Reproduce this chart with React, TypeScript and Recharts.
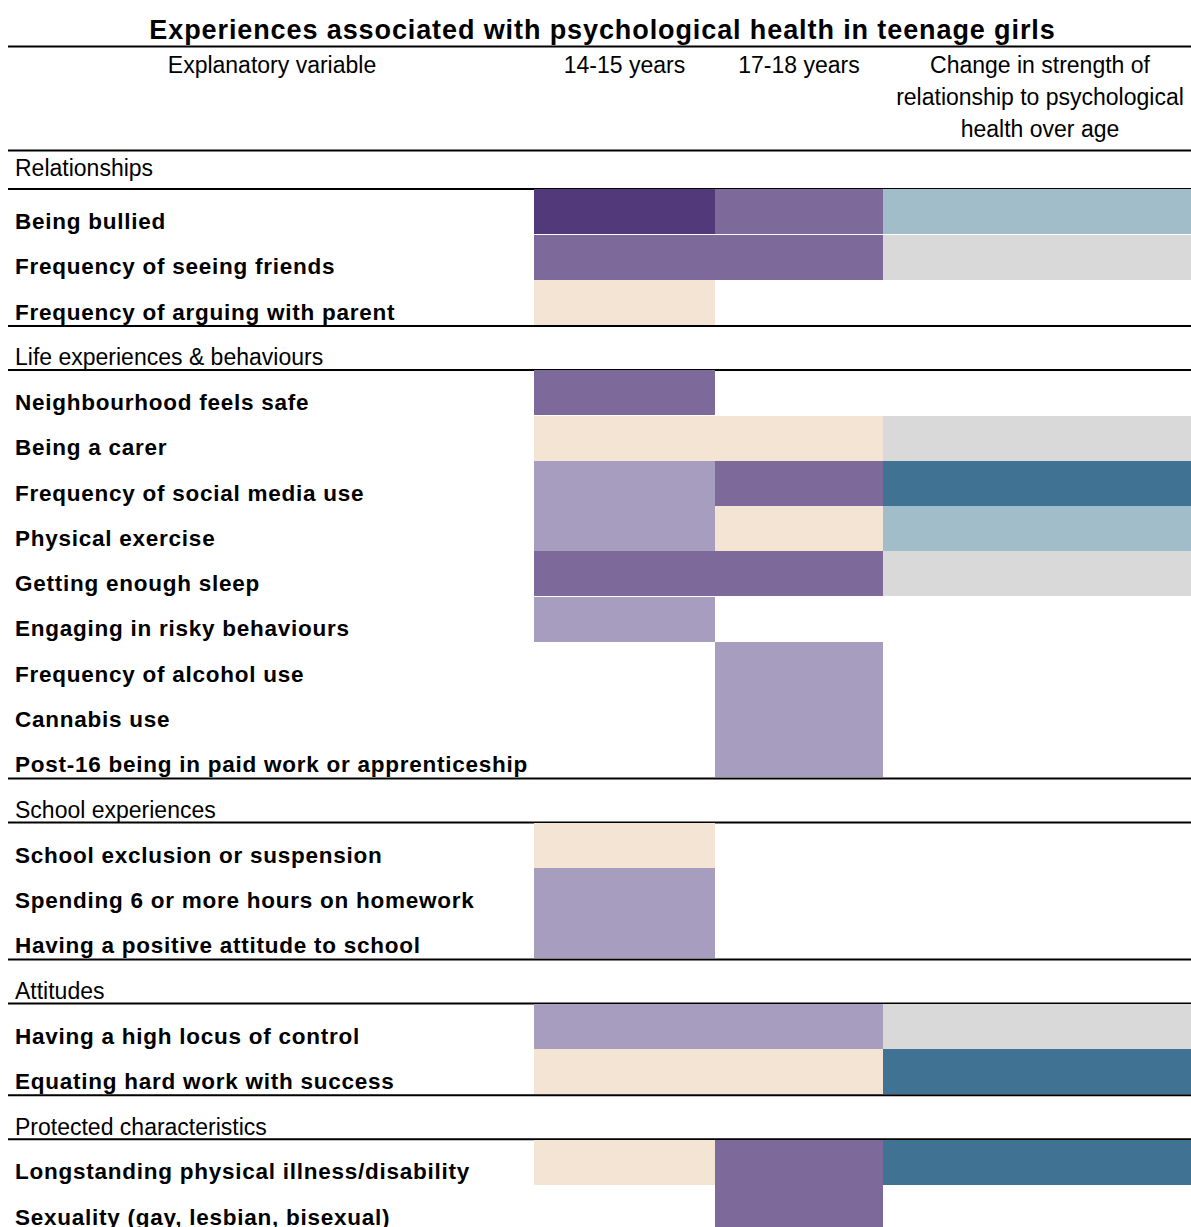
import { Bar, BarChart, XAxis, YAxis } from "recharts";

const FONT = '"Liberation Sans", Arial, sans-serif';

const title = "Experiences associated with psychological health in teenage girls";
const headerLines = [
  ["Explanatory variable"],
  ["14-15 years"],
  ["17-18 years"],
  ["Change in strength of", "relationship to psychological", "health over age"],
];

const sectionRows = [
  "Relationships",
  "Life experiences & behaviours",
  "School experiences",
  "Attitudes",
  "Protected characteristics",
];

const rowLabels = [
  "Relationships",
  "Being bullied",
  "Frequency of seeing friends",
  "Frequency of arguing with parent",
  "Life experiences & behaviours",
  "Neighbourhood feels safe",
  "Being a carer",
  "Frequency of social media use",
  "Physical exercise",
  "Getting enough sleep",
  "Engaging in risky behaviours",
  "Frequency of alcohol use",
  "Cannabis use",
  "Post-16 being in paid work or apprenticeship",
  "School experiences",
  "School exclusion or suspension",
  "Spending 6 or more hours on homework",
  "Having a positive attitude to school",
  "Attitudes",
  "Having a high locus of control",
  "Equating hard work with success",
  "Protected characteristics",
  "Longstanding physical illness/disability",
  "Sexuality (gay, lesbian, bisexual)",
];

const age1415 = ["", "darkPurple", "purple", "peach", "", "purple", "peach", "lightPurple", "lightPurple", "purple", "lightPurple", "", "", "", "", "peach", "lightPurple", "lightPurple", "", "lightPurple", "peach", "", "peach", ""];
const age1718 = ["", "purple", "purple", "", "", "", "peach", "purple", "peach", "purple", "", "lightPurple", "lightPurple", "lightPurple", "", "", "", "", "", "lightPurple", "peach", "", "purple", "purple"];
const changeOverAge = ["", "lightBlue", "grey", "", "", "", "grey", "blue", "lightBlue", "grey", "", "", "", "", "", "", "", "", "", "grey", "blue", "", "blue", ""];

// relative widths of the three result columns
const columnSpans = [181, 168, 308];

const palette: Record<string, string> = {
  darkPurple: "#52397a",
  purple: "#7e6a9a",
  lightPurple: "#a79dbe",
  peach: "#f3e4d3",
  lightBlue: "#a0bdc9",
  grey: "#d9d9d9",
  blue: "#407393",
};

const W = 1191;
const H = 1230;
const TOP = 144;
const LABEL_W = 534;
const BAND = (H - TOP) / rowLabels.length;

const rows = rowLabels.map((label, i) => ({
  label,
  section: sectionRows.includes(label),
  c0: age1415[i],
  c1: age1718[i],
  c2: changeOverAge[i],
  w0: columnSpans[0],
  w1: columnSpans[1],
  w2: columnSpans[2],
}));

function cellShape(col: number) {
  return (props: any) => {
    const { x, y, width, height, payload, index } = props;
    const fill = palette[payload[`c${col}`]];
    const parts: any[] = [];
    if (col === 0 && payload.section) {
      if (index > 0) {
        parts.push(<line key="t" x1={8} x2={W} y1={y + 1} y2={y + 1} stroke="#000" strokeWidth={2} />);
      }
      parts.push(<line key="b" x1={8} x2={W} y1={y + height} y2={y + height} stroke="#000" strokeWidth={2} />);
    }
    if (fill) {
      parts.push(<rect key="r" x={x} y={y} width={width} height={height} fill={fill} shapeRendering="crispEdges" />);
    }
    return <g>{parts}</g>;
  };
}

function RowLabel(props: any) {
  const { y, payload, index } = props;
  const isSection = sectionRows.includes(payload.value);
  let dy = BAND / 2 - 5.5;
  if (isSection) dy = index === 0 ? 9.5 : BAND / 2 - 5;
  return (
    <text
      x={15}
      y={y + dy}
      fontFamily={FONT}
      fontSize={isSection ? 23 : 22.5}
      fontWeight={isSection ? "normal" : "bold"}
      letterSpacing={isSection ? 0 : 0.75}
      fill="#000"
      textAnchor="start"
    >
      {payload.value}
    </text>
  );
}

const headerX = [272, 624.5, 799, 1040];

export default function App() {
  const total = columnSpans.reduce((a, b) => a + b, 0);
  return (
    <div style={{ position: "absolute", left: 0, top: 0, width: W, height: 1227, overflow: "hidden", background: "#fff", fontFamily: FONT }}>
      <BarChart
        width={W}
        height={H}
        data={rows}
        layout="vertical"
        margin={{ top: TOP, right: 0, bottom: 0, left: 0 }}
        barCategoryGap={0}
      >
        <XAxis type="number" hide domain={[0, total]} />
        <YAxis
          type="category"
          dataKey="label"
          width={LABEL_W}
          axisLine={false}
          tickLine={false}
          interval={0}
          tick={(p: any) => <RowLabel {...p} />}
        />
        <Bar dataKey="w0" stackId="t" isAnimationActive={false} shape={cellShape(0)} />
        <Bar dataKey="w1" stackId="t" isAnimationActive={false} shape={cellShape(1)} />
        <Bar dataKey="w2" stackId="t" isAnimationActive={false} shape={cellShape(2)} />
      </BarChart>
      <svg width={W} height={156} style={{ position: "absolute", left: 0, top: 0 }}>
        <text x={602.5} y={39} textAnchor="middle" fontFamily={FONT} fontSize={27} fontWeight="bold" letterSpacing={0.9} fill="#000">
          {title}
        </text>
        <line x1={8} x2={W} y1={46.5} y2={46.5} stroke="#000" strokeWidth={2} />
        {headerLines.map((lines, i) =>
          lines.map((t, j) => (
            <text key={`${i}-${j}`} x={headerX[i]} y={72.5 + j * 32} textAnchor="middle" fontFamily={FONT} fontSize={23} fill="#000">
              {t}
            </text>
          ))
        )}
        <line x1={8} x2={W} y1={150.5} y2={150.5} stroke="#000" strokeWidth={2} />
      </svg>
    </div>
  );
}
